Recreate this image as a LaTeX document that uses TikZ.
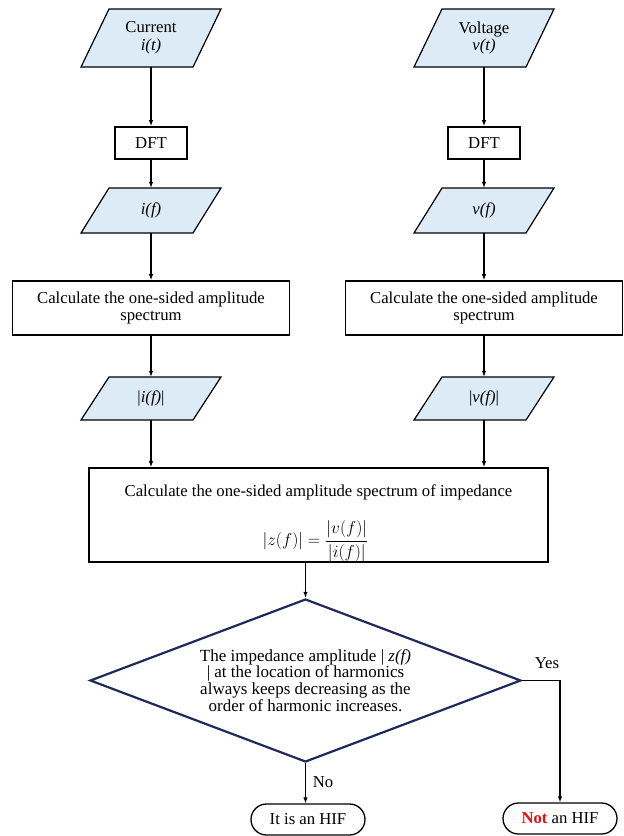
\documentclass[tikz,border=0pt]{standalone}
\usepackage{fontspec}
\setmainfont{Liberation Serif}
\usetikzlibrary{shapes.geometric,arrows.meta}
\definecolor{iofill}{HTML}{DDEBF7}
\definecolor{navy}{HTML}{1F2A5C}
\definecolor{notred}{HTML}{E01010}

% Input/output parallelogram: name, x, y, edge width, height, text
\newcommand\ioshape[6]{%
  \filldraw[iobox] ({#2-#4/2-14},{#3-#5/2}) -- ({#2+#4/2-14},{#3-#5/2})
    -- ({#2+#4/2+14},{#3+#5/2}) -- ({#2-#4/2+14},{#3+#5/2}) -- cycle;
  \node[iotext, minimum width=#4pt, minimum height=#5pt] (#1) at (#2,#3) {#6};}

\tikzset{
  iobox/.style={fill=iofill, draw=black, line width=1.2pt, line join=miter},
  iotext/.style={inner sep=0pt, align=center},
  procbox/.style={draw, line width=1.6pt, align=center, inner sep=0pt},
  arr/.style={-{Latex[length=6pt,width=4.5pt]}, line width=1.1pt},
  decision/.style={diamond, draw=navy, line width=2.2pt, inner sep=0pt,
    shape aspect=2.64, minimum width=431pt, minimum height=163pt, align=center,
    font=\fontsize{17}{16.8}\selectfont},
  term/.style={draw, rounded corners=15.5pt, line width=1.3pt,
    minimum width=114pt, minimum height=31pt, inner sep=0pt},
  lbl/.style={inner sep=0pt}
}

\begin{document}
\begin{tikzpicture}[x=1pt, y=1pt, font=\fontsize{16.7}{17.8}\selectfont]
\useasboundingbox (0,0) rectangle (624,-836);

% inputs
\ioshape{cur}{151}{-38}{112}{58}{Current\\\textit{i(t)}}
\ioshape{vol}{484}{-38}{112}{58}{Voltage\\\textit{v(t)}}

% transforms
\node[procbox, minimum width=72pt, minimum height=32pt] (dftL) at (151,-143) {DFT};
\node[procbox, minimum width=72pt, minimum height=32pt] (dftR) at (484,-143) {DFT};

\ioshape{iF}{151}{-210.5}{112}{45}{\textit{i(f)}}
\ioshape{vF}{484}{-210.5}{112}{45}{\textit{v(f)}}

\node[procbox, minimum width=277pt, minimum height=54pt] (calcL) at (151,-308)
  {Calculate the one-sided amplitude\\spectrum};
\node[procbox, minimum width=277pt, minimum height=54pt] (calcR) at (484,-308)
  {Calculate the one-sided amplitude\\spectrum};

\ioshape{aiF}{151}{-398.5}{112}{43}{|\textit{i(f)}|}
\ioshape{avF}{484}{-398.5}{112}{43}{|\textit{v(f)}|}

% impedance box with its caption and formula
\node[procbox, minimum width=459pt, minimum height=94pt] (imp) at (318.5,-515) {};
\node[inner sep=0pt] (impcap) at ([yshift=-25pt]imp.north)
  {Calculate the one-sided amplitude spectrum of impedance};
\node[inner sep=0pt] (impeq) at ([xshift=-3pt,yshift=-74pt]imp.north)
  {$\displaystyle |z(f)| = \frac{|v(f)|}{|i(f)|}$};

% decision
\node[decision] (dec) at (305.5,-680.5)
  {The impedance amplitude | \textit{z(f)}\\
   | at the location of harmonics\\
   always keeps decreasing as the\\
   order of harmonic increases.};

% outcomes
\node[term] (hif) at (308,-819.5) {It is an HIF};
\node[term] (nhif) at (560,-818.5) {\textcolor{notred}{\textbf{Not}} an HIF};

% connectors
\draw[arr] (cur) -- (dftL);
\draw[arr] (vol) -- (dftR);
\draw[arr] (dftL) -- (iF);
\draw[arr] (dftR) -- (vF);
\draw[arr] (iF) -- (calcL);
\draw[arr] (vF) -- (calcR);
\draw[arr] (calcL) -- (aiF);
\draw[arr] (calcR) -- (avF);
\draw[arr] (aiF.south) -- (aiF.south |- imp.north);
\draw[arr] (avF.south) -- (avF.south |- imp.north);
\draw[arr] (dec.north |- imp.south) -- (dec.north);
\draw[arr] (dec.south) -- (hif.north -| dec.south);
\draw[arr] (dec.east) -| (nhif.north);

\node[lbl] (yes) at (547,-663) {Yes};
\node[lbl] (no) at (323,-782) {No};
\end{tikzpicture}
\end{document}
